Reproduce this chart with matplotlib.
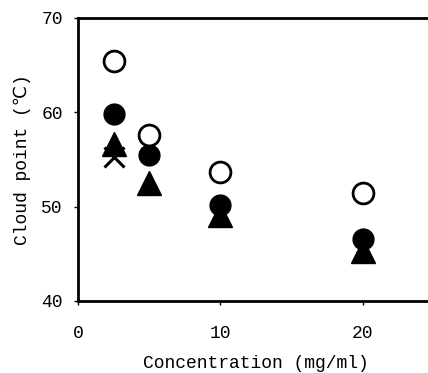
import numpy as np
import matplotlib
matplotlib.use('Agg')
import matplotlib.pyplot as plt

# concentration (mg/ml)
conc = [2.5, 5, 10, 20]
open_circ = [65.4, 57.6, 53.7, 51.4]
filled_circ = [59.8, 55.5, 50.2, 46.6]
triangles = [56.6, 52.5, 49.1, 45.3]
cross_x = [2.5]
cross_y = [55.3]

plt.rcParams['font.family'] = ['Liberation Mono', 'DejaVu Sans']

fig = plt.figure(figsize=(4.28, 3.73), dpi=100)
ax = fig.add_axes([78 / 428, 72 / 373, 356 / 428, 283 / 373])

ax.plot(cross_x, cross_y, 'x', color='k', ms=14, mew=2.2, zorder=2)
ax.plot(conc, triangles, '^', color='k', ms=17, zorder=3)
ax.plot(conc, filled_circ, 'o', color='k', ms=15, zorder=4)
ax.plot(conc, open_circ, 'o', mfc='white', mec='k', mew=2, ms=15, zorder=5)

ax.set_xlim(0, 25)
ax.set_ylim(40, 70)
ax.set_xticks([0, 10, 20])
ax.set_yticks([40, 50, 60, 70])
ax.tick_params(axis='both', labelsize=13, direction='out', length=3, width=1)
ax.tick_params(axis='x', pad=14)
ax.tick_params(axis='y', pad=8)
for s in ax.spines.values():
    s.set_linewidth(2)

ax.set_xlabel('Concentration (mg/ml)', fontsize=13, labelpad=10)
ax.set_ylabel('Cloud point (\u2103)', fontsize=13, labelpad=7)

fig.savefig('out.png', dpi=100)
